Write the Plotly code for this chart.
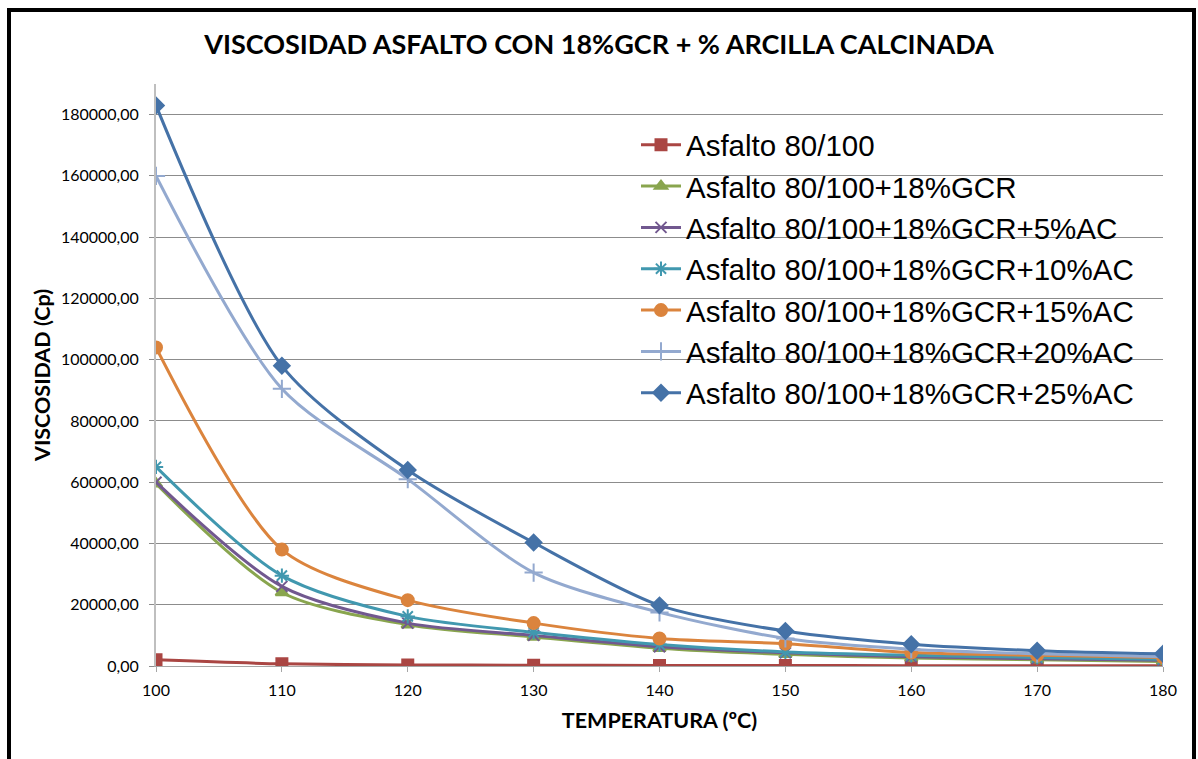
import plotly.graph_objects as go

temps = [100, 110, 120, 130, 140, 150, 160, 170, 180]

asfalto = [2000, 700, 350, 250, 180, 140, 110, 90, 70]
gcr = [59500, 24000, 13500, 9500, 5800, 3800, 2600, 2000, 1500]
gcr_5ac = [60000, 26000, 14000, 10000, 6300, 4300, 3000, 2400, 1900]
gcr_10ac = [65000, 29500, 16200, 11000, 7000, 4600, 3500, 2800, 2200]
gcr_15ac = [104000, 38000, 21500, 14000, 9000, 7300, 4400, 3500, 2800]
gcr_20ac = [160000, 90500, 61000, 30500, 17500, 9000, 5500, 4000, 3000]
gcr_25ac = [183000, 98000, 64000, 40300, 19800, 11400, 7100, 5000, 4000]

names = [
    "Asfalto 80/100",
    "Asfalto 80/100+18%GCR",
    "Asfalto 80/100+18%GCR+5%AC",
    "Asfalto 80/100+18%GCR+10%AC",
    "Asfalto 80/100+18%GCR+15%AC",
    "Asfalto 80/100+18%GCR+20%AC",
    "Asfalto 80/100+18%GCR+25%AC",
]
series = [asfalto, gcr, gcr_5ac, gcr_10ac, gcr_15ac, gcr_20ac, gcr_25ac]
colors = ["#AA4643", "#89A54E", "#71588F", "#4198AF", "#DB843D", "#93A9CF", "#4572A7"]
symbols = ["square", "triangle-up", "x-thin-open", "asterisk-open", "circle", "cross-thin-open", "diamond"]
sizes = [11, 11, 11, 12, 12, 13, 12]

fig = go.Figure()
for i, (n, s) in enumerate(zip(names, series)):
    fig.add_trace(go.Scatter(
        x=temps, y=s, name=n, mode="lines+markers",
        line=dict(color=colors[i], width=3, shape="spline", smoothing=0.8),
        marker=dict(symbol=symbols[i], size=sizes[i], color=colors[i],
                    line=dict(color=colors[i], width=2)),
    ))

L, R, T, B = 156, 35, 84, 93
W, H = 1198, 759
pw, ph = W - L - R, H - T - B

def px(x):
    return (x - L) / pw

def py(y):
    return (H - B - y) / ph

fig.update_layout(
    width=W, height=H,
    margin=dict(l=L, r=R, t=T, b=B),
    paper_bgcolor="white", plot_bgcolor="white",
    separators=",.",
    title=dict(text="<b>VISCOSIDAD ASFALTO CON 18%GCR + % ARCILLA CALCINADA</b>",
               x=0.5, xanchor="center", y=1 - 45 / H, yanchor="middle",
               font=dict(family="Lato", size=27, color="black")),
    showlegend=True,
    legend=dict(x=px(636), y=py(119), xanchor="left", yanchor="top",
                font=dict(family="Liberation Sans", size=29.5, color="black"),
                bgcolor="rgba(0,0,0,0)", itemwidth=40),
    xaxis=dict(range=[100, 180], tickvals=temps, showgrid=False,
               showline=True, linecolor="#A6A6A6", linewidth=1,
               ticks="outside", tickcolor="#A6A6A6", ticklen=5,
               ticklabelstandoff=5,
               tickfont=dict(family="Lato", size=16, color="black"),
               title=dict(text="<b>TEMPERATURA (ºC)</b>", standoff=14,
                          font=dict(family="Lato", size=21.5, color="black")),
               zeroline=False),
    yaxis=dict(range=[0, 190000], dtick=20000, tickformat=".2f",
               showgrid=True, gridcolor="#8C8C8C", gridwidth=1,
               showline=True, linecolor="#BFBFBF", linewidth=2,
               ticks="outside", tickcolor="#8C8C8C", ticklen=5,
               ticklabelstandoff=7,
               tickfont=dict(family="Lato", size=16, color="black"),
               title=dict(text="<b>VISCOSIDAD (Cp)</b>", standoff=4,
                          font=dict(family="Lato", size=21.5, color="black")),
               zeroline=False),
    shapes=[dict(type="rect", xref="paper", yref="paper",
                 x0=px(9), x1=px(1194), y0=py(780), y1=py(10),
                 line=dict(color="black", width=4), layer="above")],
)

fig.write_html("out.html")
